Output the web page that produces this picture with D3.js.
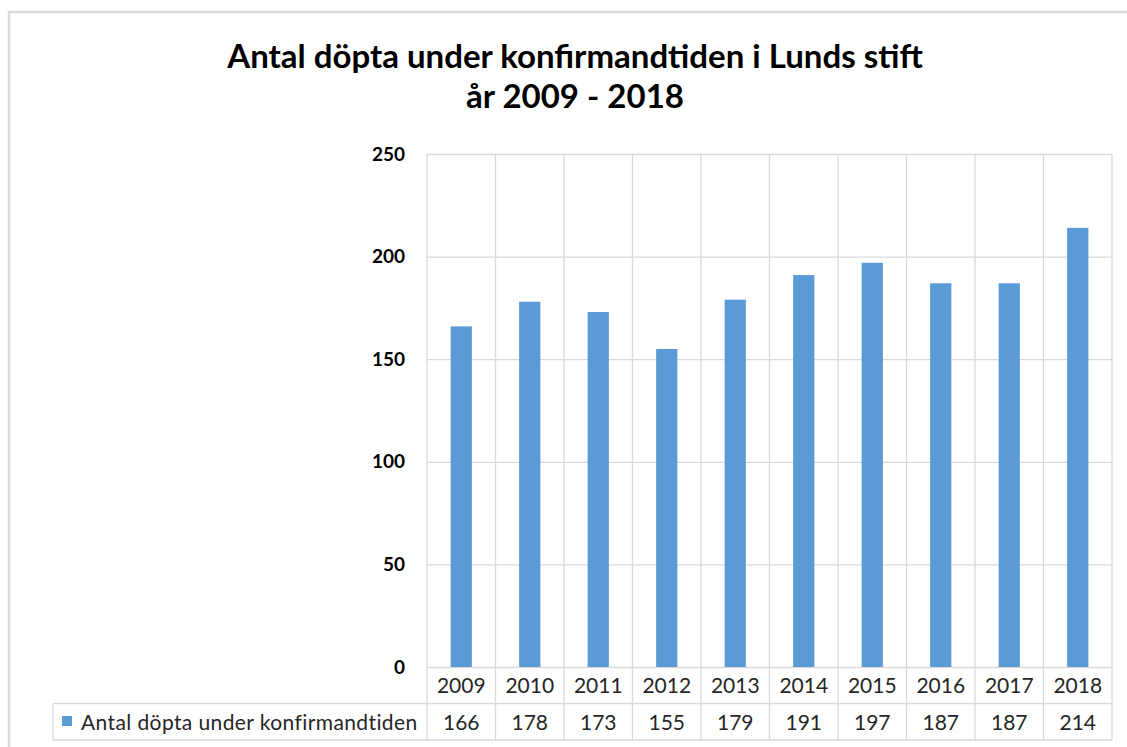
<!DOCTYPE html>
<html>
<head>
<meta charset="utf-8">
<script src="https://cdn.jsdelivr.net/npm/d3@7"></script>
<style>
    body { margin: 0; background: #fff; }
    svg { display: block; font-family: Lato, "Open Sans", sans-serif; }
</style>
</head>
<body>
<div id="chart"></div>
<script>
// Antal döpta under konfirmandtiden i Lunds stift 2009 - 2018

const titleLines = ["Antal döpta under konfirmandtiden i Lunds stift", "år 2009 - 2018"];
const seriesName = "Antal döpta under konfirmandtiden";
const years = ["2009", "2010", "2011", "2012", "2013", "2014", "2015", "2016", "2017", "2018"];
const baptized = [166, 178, 173, 155, 179, 191, 197, 187, 187, 214];
const yTicks = [0, 50, 100, 150, 200, 250];

const W = 1127, H = 747;
const plot = { left: 427, right: 1112, top: 154, bottom: 667 };
const rowH = 36.5;
const tableLeft = 53;
const barColor = "#5b9bd5";
const gridColor = "#d9d9d9";
const tableFont = 21;

const svg = d3.select("#chart").append("svg")
    .attr("width", W)
    .attr("height", H);

// outer chart frame
svg.append("rect")
    .attr("x", 9).attr("y", 12)
    .attr("width", W + 20).attr("height", H + 20)
    .attr("fill", "#fff")
    .attr("stroke", "#d9d9d9")
    .attr("stroke-width", 2.5);

// title
svg.append("g").selectAll("text")
    .data(titleLines)
    .join("text")
    .attr("x", 575)
    .attr("y", (d, i) => 68 + i * 40)
    .attr("text-anchor", "middle")
    .attr("font-weight", "bold")
    .attr("font-size", 33)
    .attr("fill", "#000")
    .text(d => d);

const x = d3.scaleBand()
    .domain(years)
    .range([plot.left, plot.right])
    .paddingInner(0)
    .paddingOuter(0);

const y = d3.scaleLinear()
    .domain([0, 250])
    .range([plot.bottom, plot.top]);

// horizontal grid
svg.append("g")
    .attr("transform", `translate(${plot.left},0)`)
    .call(d3.axisLeft(y).tickValues(yTicks).tickSize(-(plot.right - plot.left)).tickFormat(""))
    .call(g => g.select(".domain").remove())
    .selectAll("line")
    .attr("stroke", gridColor)
    .attr("stroke-width", 1.3);

// vertical category lines (down through the data table)
const tableBottom = plot.bottom + rowH * 2;
svg.append("g").selectAll("line")
    .data(years.concat(["end"]))
    .join("line")
    .attr("x1", (d, i) => i < years.length ? x(d) : plot.right)
    .attr("x2", (d, i) => i < years.length ? x(d) : plot.right)
    .attr("y1", plot.top)
    .attr("y2", tableBottom)
    .attr("stroke", gridColor)
    .attr("stroke-width", 1.3);

// data table row borders
svg.append("line")
    .attr("x1", tableLeft).attr("x2", plot.right)
    .attr("y1", plot.bottom + rowH).attr("y2", plot.bottom + rowH)
    .attr("stroke", gridColor).attr("stroke-width", 1.3);
svg.append("line")
    .attr("x1", tableLeft).attr("x2", plot.right)
    .attr("y1", tableBottom).attr("y2", tableBottom)
    .attr("stroke", gridColor).attr("stroke-width", 1.3);
svg.append("line")
    .attr("x1", tableLeft).attr("x2", tableLeft)
    .attr("y1", plot.bottom + rowH).attr("y2", tableBottom)
    .attr("stroke", gridColor).attr("stroke-width", 1.3);

// bars
const barW = x.bandwidth() * 0.31;
svg.append("g").selectAll("rect")
    .data(baptized)
    .join("rect")
    .attr("x", (d, i) => x(years[i]) + (x.bandwidth() - barW) / 2)
    .attr("y", d => y(d))
    .attr("width", barW)
    .attr("height", d => y(0) - y(d))
    .attr("fill", barColor);

// y axis labels
svg.append("g")
    .attr("transform", `translate(${plot.left},0)`)
    .call(d3.axisLeft(y).tickValues(yTicks).tickSize(0).tickPadding(22))
    .call(g => g.select(".domain").remove())
    .selectAll("text")
    .attr("font-family", "Lato, 'Open Sans', sans-serif")
    .attr("font-size", 19)
    .attr("font-weight", "bold")
    .attr("fill", "#000");

// table: category row
svg.append("g").selectAll("text")
    .data(years)
    .join("text")
    .attr("x", d => x(d) + x.bandwidth() / 2)
    .attr("y", plot.bottom + 26)
    .attr("text-anchor", "middle")
    .attr("font-size", tableFont)
    .attr("fill", "#262626")
    .text(d => d);

// table: value row
svg.append("g").selectAll("text")
    .data(baptized)
    .join("text")
    .attr("x", (d, i) => x(years[i]) + x.bandwidth() / 2)
    .attr("y", plot.bottom + rowH + 26)
    .attr("text-anchor", "middle")
    .attr("font-size", tableFont)
    .attr("fill", "#262626")
    .text(d => d);

// legend key + series name
svg.append("rect")
    .attr("x", 62).attr("y", 716)
    .attr("width", 10).attr("height", 10)
    .attr("fill", barColor);
svg.append("text")
    .attr("x", 81)
    .attr("y", plot.bottom + rowH + 26)
    .attr("font-size", tableFont)
    .attr("letter-spacing", 0.4)
    .attr("fill", "#262626")
    .text(seriesName);
</script>
</body>
</html>
